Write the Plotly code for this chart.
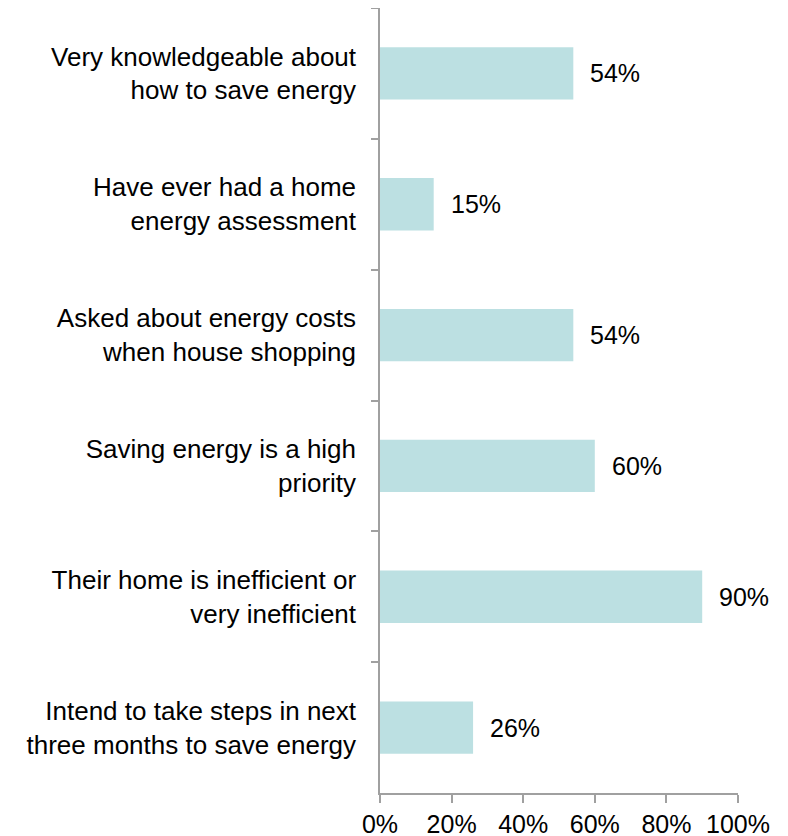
import plotly.graph_objects as go

categories = [
    "Very knowledgeable about<br>how to save energy",
    "Have ever had a home<br>energy assessment",
    "Asked about energy costs<br>when house shopping",
    "Saving energy is a high<br>priority",
    "Their home is inefficient or<br>very inefficient",
    "Intend to take steps in next<br>three months to save energy",
]
values = [54, 15, 54, 60, 90, 26]
x_ticks = [0, 20, 40, 60, 80, 100]

FONT = "Liberation Sans, Arial, sans-serif"

fig = go.Figure(
    go.Bar(
        x=values,
        y=categories,
        orientation="h",
        marker=dict(color="#bce0e2", line=dict(width=0)),
        hoverinfo="skip",
    )
)

for c, v in zip(categories, values):
    fig.add_annotation(
        x=v, y=c, text=f"{v}%", showarrow=False,
        xanchor="left", xshift=15,
        font=dict(family=FONT, size=25, color="#000000"),
    )

fig.update_layout(
    width=788, height=836,
    margin=dict(l=372, r=58, t=0, b=51),
    paper_bgcolor="white", plot_bgcolor="white",
    bargap=0.6,
    showlegend=False,
    font=dict(family=FONT, size=25, color="#000000"),
)
fig.update_xaxes(
    range=[0, 100], tickvals=x_ticks, ticktext=[f"{t}%" for t in x_ticks],
    showgrid=False, zeroline=False,
    showline=True, linecolor="#a0a0a0", linewidth=1.5,
    ticks="outside", ticklen=8, tickcolor="#a0a0a0", tickwidth=1.5,
    tickfont=dict(family=FONT, size=25, color="#000000"),
)
fig.update_yaxes(
    categoryorder="array", categoryarray=categories, autorange="reversed",
    showgrid=False, zeroline=False,
    showline=True, linecolor="#a0a0a0", linewidth=1.5,
    ticks="outside", ticklen=7, tickcolor="#a0a0a0", tickwidth=1.5,
    tickson="boundaries", ticklabelstandoff=17,
    tickfont=dict(family=FONT, size=26, color="#000000"),
)

fig.write_html("out.html")
